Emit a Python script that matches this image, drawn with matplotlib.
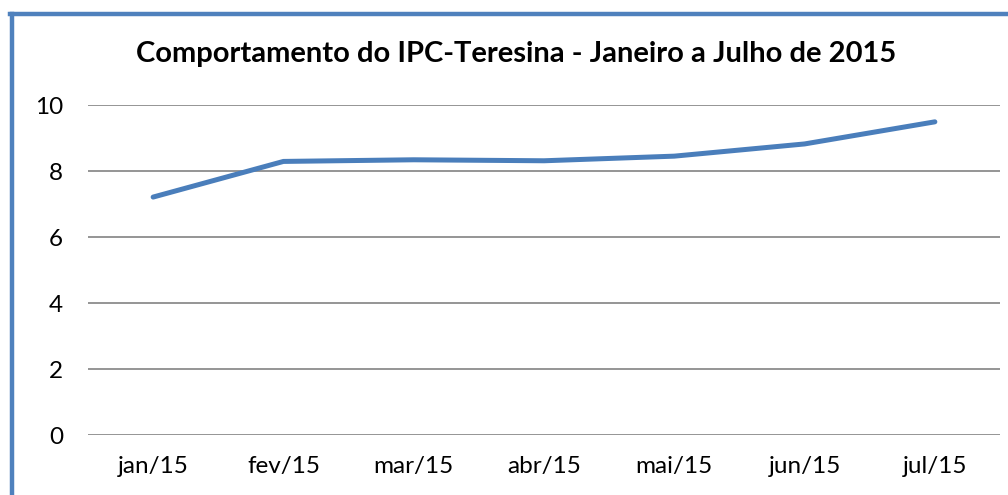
import matplotlib
matplotlib.use("Agg")
import matplotlib.pyplot as plt
from matplotlib.lines import Line2D

meses = ["jan/15", "fev/15", "mar/15", "abr/15", "mai/15", "jun/15", "jul/15"]
ipc = [7.21, 8.29, 8.34, 8.31, 8.45, 8.82, 9.49]
yticks = [0, 2, 4, 6, 8, 10]

plt.rcParams['font.family'] = ['Lato', 'DejaVu Sans']

fig = plt.figure(figsize=(10.08, 4.95), dpi=100)
ax = fig.add_axes([88/1008, 1 - 435/495, 912/1008, 330/495])

x = list(range(len(meses)))
ax.plot(x, ipc, color="#4A7EBB", linewidth=3.6, solid_capstyle="round", zorder=3)

ax.set_xlim(-0.5, len(meses) - 0.5)
ax.set_ylim(0, 10)
ax.set_yticks(yticks)
ax.set_xticks(x)
ax.set_xticklabels(meses)
ax.yaxis.grid(True, color="#8C8C8C", linewidth=1.3)
ax.set_axisbelow(True)
for s in ax.spines.values():
    s.set_visible(False)
ax.tick_params(length=0, labelsize=17.5, colors="black")
ax.tick_params(axis="y", pad=18)
ax.tick_params(axis="x", pad=15)

fig.text(516/1008, 1 - 54/495, "Comportamento do IPC-Teresina - Janeiro a Julho de 2015",
         ha="center", va="center", fontsize=21, fontweight="bold")

# moldura do grafico (bordas esquerda e superior)
fig.add_artist(Line2D([11.5/1008, 11.5/1008], [0, 1 - 14/495], transform=fig.transFigure,
                      color="#4F81BD", linewidth=3.2))
fig.add_artist(Line2D([10/1008, 1], [1 - 14/495, 1 - 14/495], transform=fig.transFigure,
                      color="#4F81BD", linewidth=3.2))

fig.savefig("out.png", dpi=100)
